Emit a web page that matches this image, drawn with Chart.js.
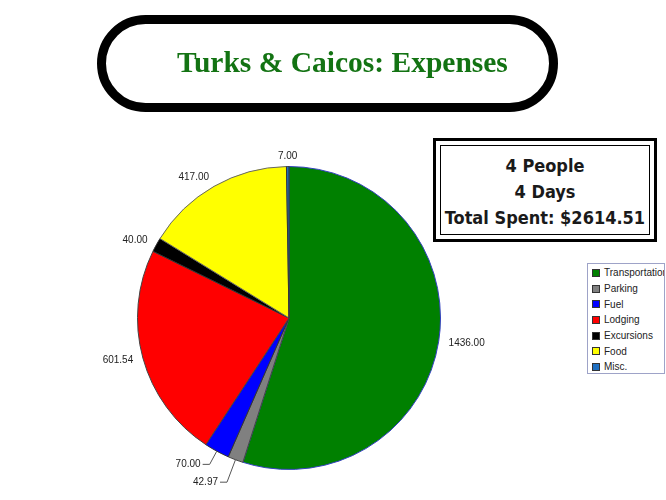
<!DOCTYPE html>
<html>
<head>
<meta charset="utf-8">
<script src="https://cdn.jsdelivr.net/npm/chart.js@4.4.0/dist/chart.umd.min.js"></script>
<style>
    html, body { margin: 0; padding: 0; background: #fff; }
    body { width: 666px; height: 500px; position: relative; overflow: hidden; font-family: "Liberation Sans", Arial, sans-serif; }
    #chartWrap { position: absolute; left: 0; top: 0; width: 666px; height: 500px; }
    #titleBox {
        position: absolute; left: 97px; top: 15px; width: 443px; height: 79px;
        border: 9px solid #000; border-radius: 50px;
    }
    #titleBox span {
        position: absolute; left: 71px; top: -1px; height: 79px; line-height: 79px; white-space: nowrap;
        font-family: "Liberation Serif", "DejaVu Serif", serif; font-weight: bold;
        font-size: 29.5px; color: #137313;
    }
    #infoBox {
        position: absolute; left: 433px; top: 138px; width: 218px; height: 98px;
        border: 3px solid #000; background: #fff;
    }
    #infoInner {
        position: absolute; left: 4px; top: 4px; right: 4px; bottom: 4px;
        border: 1.5px solid #000; text-align: center;
        font-family: "DejaVu Sans Condensed", "DejaVu Sans", sans-serif; font-weight: bold;
        font-size: 18px; line-height: 26px; color: #1a1a1a; padding-top: 7px; box-sizing: border-box;
    }
    #legend {
        position: absolute; left: 587px; top: 263px; width: 78px; height: 111px;
        border: 1px solid #9ea3c8; box-sizing: border-box; padding-top: 1px; overflow: hidden;
        background: #fff;
    }
    .item { height: 15.7px; display: flex; align-items: center; font-size: 10px; color: #222; white-space: nowrap; padding-left: 4px; }
    .swatch { width: 6px; height: 6px; border: 1px solid #333; margin-right: 4px; flex: none; }
</style>
</head>
<body>
<div id="chartWrap"><canvas id="pieChart"></canvas></div>
<div id="titleBox"><span>Turks &amp; Caicos: Expenses</span></div>
<div id="infoBox"><div id="infoInner"></div></div>
<div id="legend"></div>

<script>
// Chart data
const categories = ['Transportation', 'Parking', 'Fuel', 'Lodging', 'Excursions', 'Food', 'Misc.'];
const amounts = [1436.00, 42.97, 70.00, 601.54, 40.00, 417.00, 7.00];
const sliceColors = ['#008000', '#808080', '#0000ff', '#ff0000', '#000000', '#ffff00', '#1f6fc0'];
const infoLines = ['4 People', '4 Days', 'Total Spent: $2614.51'];

// Info box text
document.getElementById('infoInner').innerHTML = infoLines.map(l => '<div>' + l + '</div>').join('');

// Legend built from the categories
const legendEl = document.getElementById('legend');
categories.forEach((c, i) => {
    const row = document.createElement('div');
    row.className = 'item';
    row.innerHTML = '<span class="swatch" style="background:' + sliceColors[i] + '"></span>' + c;
    legendEl.appendChild(row);
});

// Value labels outside the pie, with leader lines for small slices in the lower half
const outsideLabels = {
    id: 'outsideLabels',
    afterDatasetsDraw(chart) {
        const ctx = chart.ctx;
        const meta = chart.getDatasetMeta(0);
        const data = chart.data.datasets[0].data;
        const total = data.reduce((a, b) => a + b, 0);
        ctx.save();
        ctx.font = '10px "Liberation Sans", Arial, sans-serif';
        ctx.fillStyle = '#222';
        ctx.textBaseline = 'middle';
        const placed = [];
        // walk backwards so the later small slice keeps its spot and the earlier one moves out
        for (let i = meta.data.length - 1; i >= 0; i--) {
            const arc = meta.data[i];
            const mid = (arc.startAngle + arc.endAngle) / 2;
            const cos = Math.cos(mid), sin = Math.sin(mid);
            const text = data[i].toFixed(2);
            const w = ctx.measureText(text).width;
            const h = 11;
            const leader = data[i] / total < 0.03 && sin > 0;
            if (!leader) {
                const r = arc.outerRadius + 10;
                const x = arc.x + cos * r, y = arc.y + sin * r;
                if (Math.abs(cos) < 0.1) ctx.textAlign = 'center';
                else ctx.textAlign = cos < 0 ? 'right' : 'left';
                ctx.fillText(text, x, y);
                continue;
            }
            // push outward until the box clears the labels already placed
            let r = arc.outerRadius + 15;
            let box;
            const dir = cos < 0 ? -1 : 1;
            for (let k = 0; k < 60; k++) {
                const ex = arc.x + cos * r, ey = arc.y + sin * r;
                const tx = ex + dir * 9;
                box = { x0: dir < 0 ? tx - w : tx, x1: dir < 0 ? tx : tx + w, y0: ey - h / 2, y1: ey + h / 2, ex, ey, tx };
                const hit = placed.some(p => box.x0 < p.x1 + 6 && box.x1 > p.x0 - 6 && box.y0 < p.y1 + 6 && box.y1 > p.y0 - 6);
                if (!hit) break;
                r += 1;
            }
            placed.push(box);
            ctx.strokeStyle = '#555';
            ctx.lineWidth = 1;
            ctx.beginPath();
            ctx.moveTo(arc.x + cos * arc.outerRadius, arc.y + sin * arc.outerRadius);
            ctx.lineTo(box.ex, box.ey);
            ctx.lineTo(box.ex + dir * 7, box.ey);
            ctx.stroke();
            ctx.textAlign = dir < 0 ? 'right' : 'left';
            ctx.fillText(text, box.tx, box.ey);
        }
        ctx.restore();
    }
};

const ctx = document.getElementById('pieChart').getContext('2d');
const pieChart = new Chart(ctx, {
    type: 'pie',
    data: {
        labels: categories,
        datasets: [{
            data: amounts,
            backgroundColor: sliceColors,
            borderColor: ['#3340c0', '#444', '#333', '#444', '#333', '#666', '#333'],
            borderWidth: 1
        }]
    },
    options: {
        responsive: true,
        maintainAspectRatio: false,
        animation: false,
        layout: { padding: { left: 137, right: 225, top: 166, bottom: 30 } },
        plugins: {
            legend: { display: false },
            tooltip: { enabled: false }
        }
    },
    plugins: [outsideLabels]
});
</script>
</body>
</html>
